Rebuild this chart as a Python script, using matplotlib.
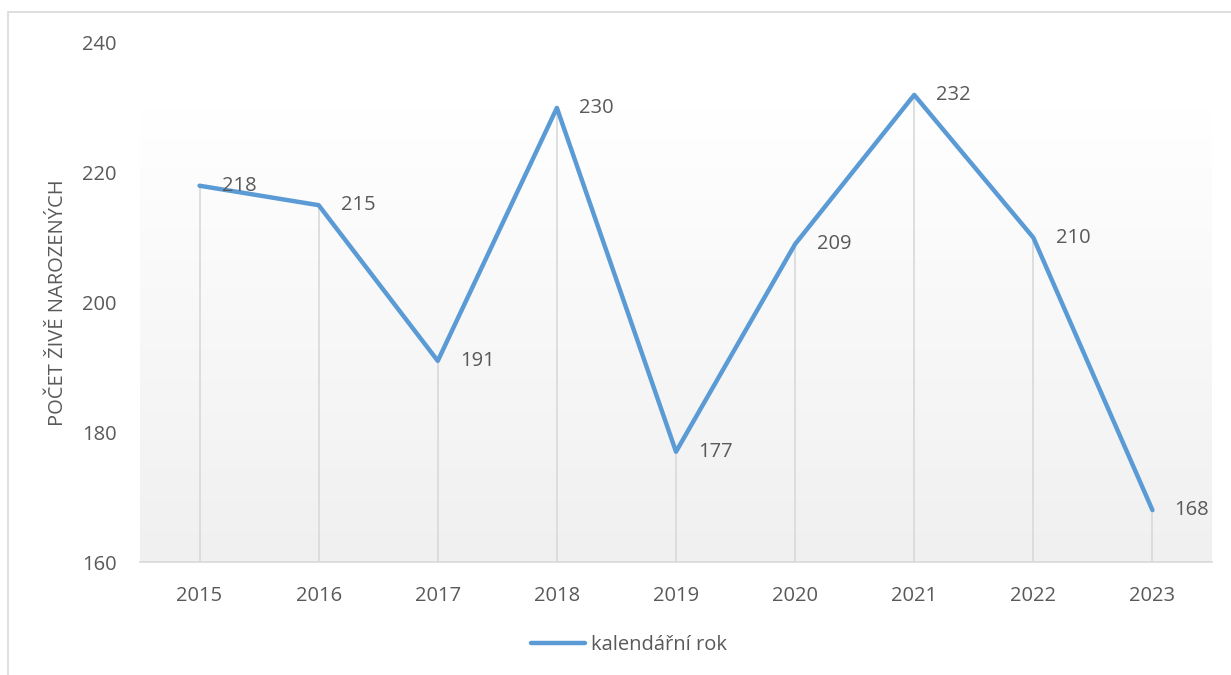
import numpy as np
import matplotlib.pyplot as plt
from matplotlib.patches import Rectangle

plt.rcParams['font.family'] = ['Open Sans', 'DejaVu Sans']

years = ['2015', '2016', '2017', '2018', '2019', '2020', '2021', '2022', '2023']
births = [218, 215, 191, 230, 177, 209, 232, 210, 168]
y_ticks = [160, 180, 200, 220, 240]

line_color = '#5b9bd5'
text_color = '#595959'
fs = 14.5

fig = plt.figure(figsize=(12.31, 6.75), dpi=100)
ax = fig.add_axes([140/1231, 1-562/675, 1072/1231, 519/675])

# outer chart border (only left/top visible in reference)
fig.patches.append(Rectangle((8/1231, -0.1), 1.2, 1-12/675+0.1, transform=fig.transFigure,
                             fill=False, edgecolor='#d9d9d9', linewidth=1.2))

x = np.arange(len(years))
ax.set_xlim(-0.5, len(years)-0.5)
ax.set_ylim(160, 240)

# plot area gradient (white at top to light gray at bottom)
grad = np.linspace(1.0, 0.0, 256).reshape(-1, 1)
ax.imshow(grad, extent=(-0.5, len(years)-0.5, 160, 230), aspect='auto',
          cmap=plt.matplotlib.colors.LinearSegmentedColormap.from_list('g', ['#f0f0f0', '#ffffff']),
          zorder=0, origin='upper')

# drop lines
ax.vlines(x, 160, births, color='#d9d9d9', linewidth=1.2, zorder=1)
p1, = ax.plot(x, births, color=line_color, linewidth=3.2, solid_capstyle='round',
              label='kalendářní rok', zorder=3)

for xi, v in zip(x, births):
    ax.annotate(str(v), (xi, v), xytext=(16, 0), textcoords='offset points',
                ha='left', va='center', fontsize=fs, color=text_color, zorder=4)

ax.set_xticks(x)
ax.set_xticklabels(years)
ax.set_yticks(y_ticks)
ax.tick_params(axis='both', length=0, labelsize=fs, colors=text_color)
ax.tick_params(axis='y', pad=17)
ax.tick_params(axis='x', pad=17)
for s in ['top', 'right', 'left']:
    ax.spines[s].set_visible(False)
ax.spines['bottom'].set_color('#d9d9d9')
ax.spines['bottom'].set_linewidth(1.2)
ax.set_ylabel('POČET ŽIVĚ NAROZENÝCH', fontsize=fs, color=text_color, labelpad=10)

fig.legend(handles=[p1], loc='center', bbox_to_anchor=(629/1231, 1-645/675), frameon=False,
           fontsize=fs, labelcolor=text_color, handlelength=2.7, handletextpad=0.3)

plt.savefig('out.png', dpi=100)
